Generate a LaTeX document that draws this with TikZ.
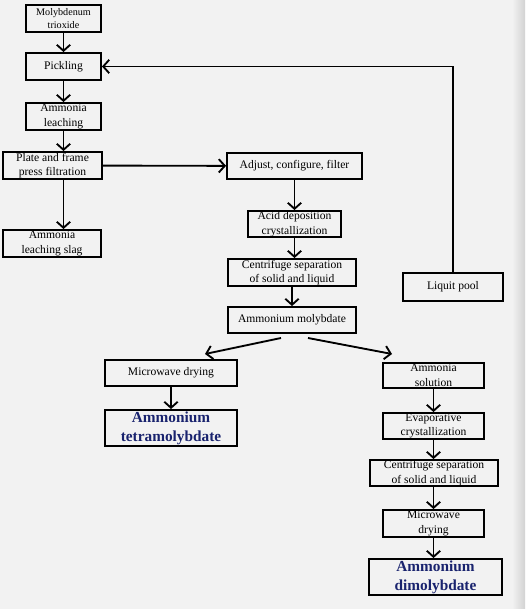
\documentclass[tikz,border=0pt]{standalone}
\usepackage{fontspec}
\setmainfont{Liberation Serif}
\usetikzlibrary{arrows.meta,calc}
\definecolor{bg}{RGB}{242,242,242}
\definecolor{navy}{RGB}{25,35,110}

\tikzset{
  box/.style 2 args={draw, line width=1.4pt, align=center, inner sep=0pt,
    minimum width=#1*0.75pt, minimum height=#2*0.75pt,
    font=\fontsize{8.7}{11}\selectfont},
  product/.style 2 args={box={#1}{#2}, font=\fontsize{11.5}{14}\selectfont\bfseries, text=navy},
  flow/.style={-{Straight Barb[length=4.5pt,width=10pt]}, line width=1.4pt},
}

\begin{document}
\begin{tikzpicture}[x=0.75pt,y=-0.75pt]
    \fill[bg] (0,0) rectangle (525,609);
    \shade[left color=bg, right color=gray!35] (512,0) rectangle (525,609);
    % left column
    \node[box={75}{27}, font=\fontsize{7.6}{9.5}\selectfont] (oxide) at (63.5,18.5) {Molybdenum\\trioxide};
    \node[box={75}{27}] (pickle) at (63.5,66.5) {Pickling};
    \node[box={75}{27}] (leach) at (63.5,116.5) {Ammonia\\leaching};
    \node[box={99}{27}] (press) at (52.5,165.5) {Plate and frame\\press filtration};
    \node[box={98}{27}] (slag) at (52,243.5) {Ammonia\\leaching slag};
    % middle column
    \node[box={135}{26}] (adjust) at (294.5,166) {Adjust, configure, filter};
    \node[box={93}{26}] (acid) at (294.5,224) {Acid deposition\\crystallization};
    \node[box={128}{27}] (centA) at (292,272.5) {Centrifuge separation\\of solid and liquid};
    \node[box={128}{26}] (molyb) at (292,320) {Ammonium molybdate};
    \node[box={100}{28}] (pool) at (453,287) {Liquit pool};
    % tetramolybdate branch
    \node[box={132}{26}] (dryA) at (171,373) {Microwave drying};
    \node[product={132}{36}] (tetra) at (171,428) {Ammonium\\tetramolybdate};
    % dimolybdate branch
    \node[box={101}{25}] (ammsol) at (433.5,375.5) {Ammonia\\solution};
    \node[box={101}{26}] (evap) at (433.5,426) {Evaporative\\crystallization};
    \node[box={128}{26}] (centB) at (434,473) {Centrifuge separation\\of solid and liquid};
    \node[box={101}{27}] (dryB) at (433.5,523.5) {Microwave\\drying};
    \node[product={133}{36}] (dimo) at (435.5,577) {Ammonium\\dimolybdate};

    \coordinate (splitL) at (281,338);
    \coordinate (splitR) at (308,338);
    \coordinate (toL) at (205,354);
    \coordinate (toR) at (392,354);

    \draw[flow] (oxide) -- (pickle);
    \draw[flow] (pickle) -- (leach);
    \draw[flow] (leach) -- (leach |- press.north);
    \draw[flow] (leach |- press.south) -- (leach |- slag.north);
    \draw[flow] (press) -- (adjust);
    \draw[flow] (adjust) -- (acid);
    \draw[flow] (acid.south) -- (acid.south |- centA.north);
    \draw[flow] (centA) -- (molyb);
    \draw[flow] (pool.north) |- (pickle.east);
    \draw[flow] (splitL) -- (toL);
    \draw[flow] (splitR) -- (toR);
    \draw[flow] (dryA) -- (tetra);
    \draw[flow] (ammsol.south) -- (ammsol.south |- evap.north);
    \draw[flow] (evap.south) -- (evap.south |- centB.north);
    \draw[flow] (evap.south |- centB.south) -- (evap.south |- dryB.north);
    \draw[flow] (evap.south |- dryB.south) -- (evap.south |- dimo.north);
  \end{tikzpicture}
\end{document}
